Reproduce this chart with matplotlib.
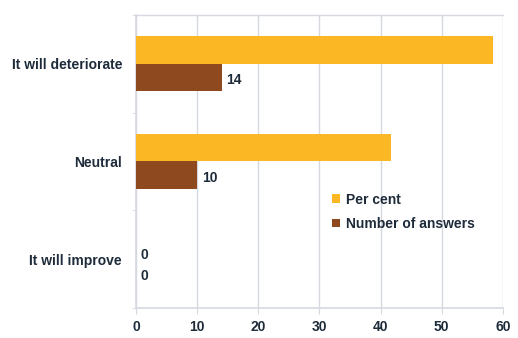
import matplotlib
matplotlib.use("Agg")
import matplotlib.pyplot as plt
import numpy as np

categories = ["It will deteriorate", "Neutral", "It will improve"]
per_cent = [58.3, 41.7, 0]
answers = [14, 10, 0]
xticks = [0, 10, 20, 30, 40, 50, 60]

YELLOW = "#FBB724"
BROWN = "#8E4A1E"
TEXT = "#1E2B3A"
GRID = "#D6D8E0"

plt.rcParams["font.family"] = ["Liberation Sans", "DejaVu Sans"]

fig = plt.figure(figsize=(5.18, 3.38), dpi=100)
ax = fig.add_axes([0.2625, 0.089, 0.7085, 0.867])

y = np.arange(len(categories))
h = 0.28
ax.barh(y - h / 2, per_cent, height=h, color=YELLOW, label="Per cent", zorder=3)
ax.barh(y + h / 2, answers, height=h, color=BROWN, label="Number of answers", zorder=3)

for yi, v in zip(y, answers):
    ax.text(v + 0.8, yi + h / 2 + 0.03, f"{v}", va="center", ha="left",
            fontsize=10, fontweight="bold", color=TEXT)
# the zero per-cent value also gets a label
ax.text(per_cent[2] + 0.8, y[2] - h / 2 + 0.1, f"{per_cent[2]:.0f}", va="center", ha="left",
        fontsize=10, fontweight="bold", color=TEXT)

ax.set_xlim(0, 60)
ax.set_ylim(2.5, -0.5)
ax.set_xticks(xticks)
ax.set_xticklabels([str(t) for t in xticks], fontsize=10, fontweight="bold", color=TEXT)
ax.set_yticks(y)
ax.set_yticklabels(categories, fontsize=10, fontweight="bold", color=TEXT)
ax.set_yticks([-0.5, 0.5, 1.5, 2.5], minor=True)
ax.tick_params(axis="y", which="major", length=0, pad=10)
ax.tick_params(axis="y", which="minor", length=3, color=GRID)
ax.tick_params(axis="x", length=4, color=GRID, pad=5)

ax.grid(axis="x", color=GRID, linewidth=1, zorder=0)
ax.spines["right"].set_visible(False)
ax.spines["top"].set_color(GRID)
ax.spines["top"].set_linewidth(1)
for side in ["left", "bottom"]:
    ax.spines[side].set_color(GRID)
    ax.spines[side].set_linewidth(1.2)

leg = ax.legend(loc="center left", bbox_to_anchor=(0.5, 0.328), frameon=False,
                handlelength=0.6, handleheight=0.6, handletextpad=0.4,
                labelspacing=0.73, prop={"weight": "bold", "size": 10})
for t in leg.get_texts():
    t.set_color(TEXT)

fig.savefig("out.png", dpi=100)
